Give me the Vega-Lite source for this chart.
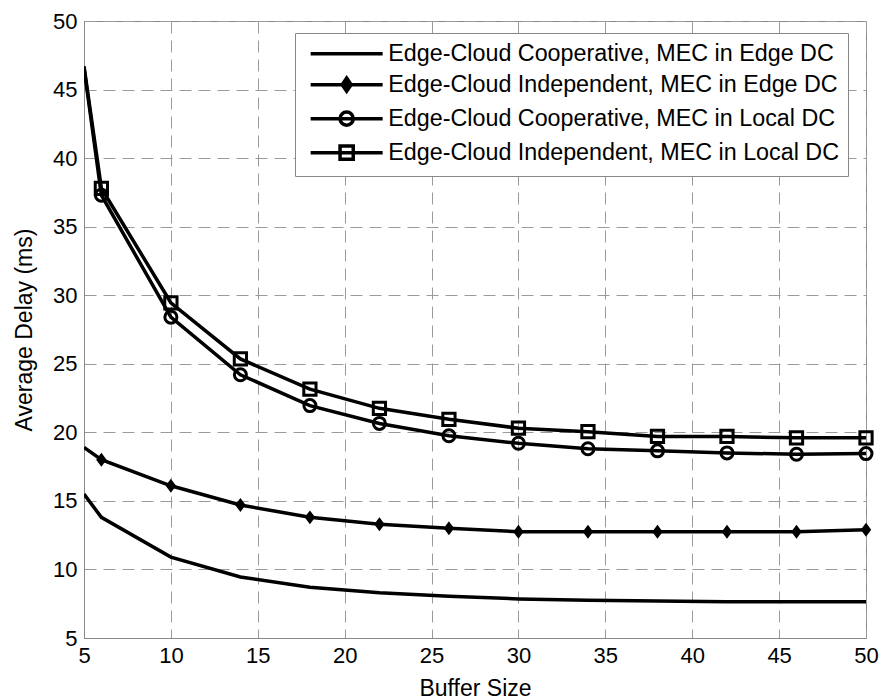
{
  "$schema": "https://vega.github.io/schema/vega-lite/v6.json",
  "width": 782,
  "height": 617,
  "autosize": {"type": "none"},
  "padding": {"left": 84, "top": 21, "right": 22, "bottom": 62},
  "background": "white",
  "config": {
    "font": "Liberation Sans",
    "view": {"stroke": "#888888", "strokeWidth": 1},
    "axis": {
      "grid": true,
      "gridDash": [12, 7],
      "gridColor": "#9a9a9a",
      "gridWidth": 1,
      "domainColor": "#888888",
      "domainWidth": 1,
      "ticks": false,
      "labelFontSize": 22,
      "labelColor": "black",
      "labelFont": "Liberation Sans",
      "labelFlush": false,
      "labelOverlap": false,
      "titleFontSize": 23,
      "titleFontWeight": "normal",
      "titleFont": "Liberation Sans",
      "titleColor": "black"
    }
  },
  "data": {
    "values": [
      {"x": 5, "y": 15.5, "s": "Edge-Cloud Cooperative, MEC in Edge DC"},
      {"x": 6, "y": 13.8, "s": "Edge-Cloud Cooperative, MEC in Edge DC"},
      {"x": 10, "y": 10.9, "s": "Edge-Cloud Cooperative, MEC in Edge DC"},
      {"x": 14, "y": 9.45, "s": "Edge-Cloud Cooperative, MEC in Edge DC"},
      {"x": 18, "y": 8.7, "s": "Edge-Cloud Cooperative, MEC in Edge DC"},
      {"x": 22, "y": 8.3, "s": "Edge-Cloud Cooperative, MEC in Edge DC"},
      {"x": 26, "y": 8.05, "s": "Edge-Cloud Cooperative, MEC in Edge DC"},
      {"x": 30, "y": 7.85, "s": "Edge-Cloud Cooperative, MEC in Edge DC"},
      {"x": 34, "y": 7.75, "s": "Edge-Cloud Cooperative, MEC in Edge DC"},
      {"x": 38, "y": 7.7, "s": "Edge-Cloud Cooperative, MEC in Edge DC"},
      {"x": 42, "y": 7.65, "s": "Edge-Cloud Cooperative, MEC in Edge DC"},
      {"x": 46, "y": 7.65, "s": "Edge-Cloud Cooperative, MEC in Edge DC"},
      {"x": 50, "y": 7.65, "s": "Edge-Cloud Cooperative, MEC in Edge DC"},
      {"x": 5, "y": 18.9, "s": "Edge-Cloud Independent, MEC in Edge DC"},
      {"x": 6, "y": 18.0, "s": "Edge-Cloud Independent, MEC in Edge DC"},
      {"x": 10, "y": 16.1, "s": "Edge-Cloud Independent, MEC in Edge DC"},
      {"x": 14, "y": 14.7, "s": "Edge-Cloud Independent, MEC in Edge DC"},
      {"x": 18, "y": 13.8, "s": "Edge-Cloud Independent, MEC in Edge DC"},
      {"x": 22, "y": 13.3, "s": "Edge-Cloud Independent, MEC in Edge DC"},
      {"x": 26, "y": 13.0, "s": "Edge-Cloud Independent, MEC in Edge DC"},
      {"x": 30, "y": 12.75, "s": "Edge-Cloud Independent, MEC in Edge DC"},
      {"x": 34, "y": 12.75, "s": "Edge-Cloud Independent, MEC in Edge DC"},
      {"x": 38, "y": 12.75, "s": "Edge-Cloud Independent, MEC in Edge DC"},
      {"x": 42, "y": 12.75, "s": "Edge-Cloud Independent, MEC in Edge DC"},
      {"x": 46, "y": 12.75, "s": "Edge-Cloud Independent, MEC in Edge DC"},
      {"x": 50, "y": 12.9, "s": "Edge-Cloud Independent, MEC in Edge DC"},
      {"x": 5, "y": 46.6, "s": "Edge-Cloud Cooperative, MEC in Local DC"},
      {"x": 6, "y": 37.3, "s": "Edge-Cloud Cooperative, MEC in Local DC"},
      {"x": 10, "y": 28.4, "s": "Edge-Cloud Cooperative, MEC in Local DC"},
      {"x": 14, "y": 24.2, "s": "Edge-Cloud Cooperative, MEC in Local DC"},
      {"x": 18, "y": 21.95, "s": "Edge-Cloud Cooperative, MEC in Local DC"},
      {"x": 22, "y": 20.65, "s": "Edge-Cloud Cooperative, MEC in Local DC"},
      {"x": 26, "y": 19.75, "s": "Edge-Cloud Cooperative, MEC in Local DC"},
      {"x": 30, "y": 19.2, "s": "Edge-Cloud Cooperative, MEC in Local DC"},
      {"x": 34, "y": 18.8, "s": "Edge-Cloud Cooperative, MEC in Local DC"},
      {"x": 38, "y": 18.65, "s": "Edge-Cloud Cooperative, MEC in Local DC"},
      {"x": 42, "y": 18.5, "s": "Edge-Cloud Cooperative, MEC in Local DC"},
      {"x": 46, "y": 18.4, "s": "Edge-Cloud Cooperative, MEC in Local DC"},
      {"x": 50, "y": 18.45, "s": "Edge-Cloud Cooperative, MEC in Local DC"},
      {"x": 5, "y": 46.7, "s": "Edge-Cloud Independent, MEC in Local DC"},
      {"x": 6, "y": 37.8, "s": "Edge-Cloud Independent, MEC in Local DC"},
      {"x": 10, "y": 29.45, "s": "Edge-Cloud Independent, MEC in Local DC"},
      {"x": 14, "y": 25.35, "s": "Edge-Cloud Independent, MEC in Local DC"},
      {"x": 18, "y": 23.15, "s": "Edge-Cloud Independent, MEC in Local DC"},
      {"x": 22, "y": 21.75, "s": "Edge-Cloud Independent, MEC in Local DC"},
      {"x": 26, "y": 20.95, "s": "Edge-Cloud Independent, MEC in Local DC"},
      {"x": 30, "y": 20.3, "s": "Edge-Cloud Independent, MEC in Local DC"},
      {"x": 34, "y": 20.05, "s": "Edge-Cloud Independent, MEC in Local DC"},
      {"x": 38, "y": 19.7, "s": "Edge-Cloud Independent, MEC in Local DC"},
      {"x": 42, "y": 19.7, "s": "Edge-Cloud Independent, MEC in Local DC"},
      {"x": 46, "y": 19.6, "s": "Edge-Cloud Independent, MEC in Local DC"},
      {"x": 50, "y": 19.6, "s": "Edge-Cloud Independent, MEC in Local DC"}
    ]
  },
  "encoding": {
    "x": {
      "field": "x",
      "type": "quantitative",
      "scale": {"domain": [5, 50], "nice": false, "zero": false},
      "axis": {"title": "Buffer Size", "values": [5, 10, 15, 20, 25, 30, 35, 40, 45, 50], "labelPadding": 7, "titlePadding": 11}
    },
    "y": {
      "field": "y",
      "type": "quantitative",
      "scale": {"domain": [5, 50], "nice": false, "zero": false},
      "axis": {"title": "Average Delay (ms)", "values": [5, 10, 15, 20, 25, 30, 35, 40, 45, 50], "labelPadding": 7, "titlePadding": 16}
    }
  },
  "layer": [
    {
      "mark": {"type": "line", "color": "black", "strokeWidth": 3.5, "clip": true},
      "encoding": {"detail": {"field": "s"}}
    },
    {
      "transform": [{"filter": "datum.s == 'Edge-Cloud Cooperative, MEC in Local DC' && datum.x > 5"}],
      "mark": {"type": "point", "shape": "circle", "size": 144, "filled": false, "color": "black", "strokeWidth": 3, "opacity": 1}
    },
    {
      "transform": [{"filter": "datum.s == 'Edge-Cloud Independent, MEC in Local DC' && datum.x > 5"}],
      "mark": {"type": "point", "shape": "square", "size": 150, "filled": false, "color": "black", "strokeWidth": 3, "opacity": 1}
    },
    {
      "transform": [{"filter": "datum.s == 'Edge-Cloud Independent, MEC in Edge DC' && datum.x > 5"}],
      "mark": {"type": "point", "shape": "M0,-1L0.75,0L0,1L-0.75,0Z", "size": 130, "filled": true, "color": "black", "stroke": "black", "strokeWidth": 1.5, "opacity": 1}
    },
    {
      "transform": [{"filter": "datum.x < 0"}],
      "mark": {"type": "point", "filled": false, "color": "black", "strokeWidth": 3.5, "size": 144, "opacity": 1},
      "encoding": {
        "shape": {
          "field": "s",
          "type": "nominal",
          "scale": {
            "domain": [
              "Edge-Cloud Cooperative, MEC in Edge DC",
              "Edge-Cloud Independent, MEC in Edge DC",
              "Edge-Cloud Cooperative, MEC in Local DC",
              "Edge-Cloud Independent, MEC in Local DC"
            ],
            "range": [
              "M-6,0H6",
              "M-6,0H6M0,-1.1L0.75,0L0,1.1L-0.75,0ZM0,-0.5L0.35,0L0,0.5L-0.35,0Z",
              "M-6,0H6M1.1,0A1.1,1.1,0,1,1,-1.1,0A1.1,1.1,0,1,1,1.1,0Z",
              "M-6,0H6M-1.1,-1.1H1.1V1.1H-1.1Z"
            ]
          },
          "legend": {
            "title": null,
            "orient": "none",
            "legendX": 211,
            "legendY": 12,
            "padding": 9,
            "fillColor": "white",
            "strokeColor": "#888888",
            "labelFontSize": 23.3,
            "labelFont": "Liberation Sans",
            "labelColor": "black",
            "labelLimit": 0,
            "labelBaseline": "middle",
            "symbolSize": 144,
            "symbolStrokeWidth": 3.5,
            "symbolStrokeColor": "black",
            "symbolFillColor": "transparent",
            "symbolOffset": 31,
            "labelOffset": 30,
            "rowPadding": 6
          }
        }
      }
    }
  ]
}
